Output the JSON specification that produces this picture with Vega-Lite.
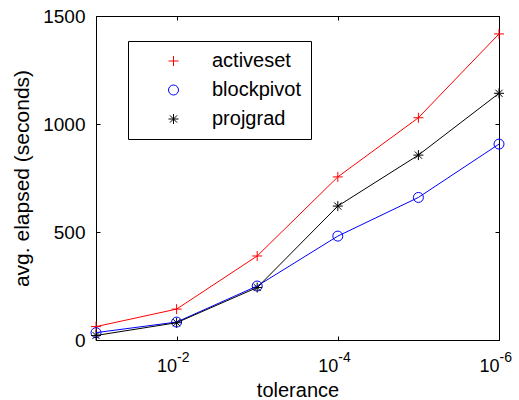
{
  "$schema": "https://vega.github.io/schema/vega-lite/v6.json",
  "width": 403,
  "height": 324,
  "autosize": {"type": "none"},
  "padding": {"left": 96, "top": 16, "right": 20, "bottom": 60},
  "background": "white",
  "config": {
    "font": "Liberation Sans",
    "view": {"stroke": "black", "strokeWidth": 1},
    "axis": {"grid": false, "labelColor": "black", "titleColor": "black", "domainColor": "black", "tickColor": "black", "tickSize": -4, "labelFontWeight": "normal", "titleFontWeight": "normal"}
  },
  "data": {
    "values": [
      {"tol": 0.1, "method": "activeset", "time": 62},
      {"tol": 0.01, "method": "activeset", "time": 143},
      {"tol": 0.001, "method": "activeset", "time": 389},
      {"tol": 0.0001, "method": "activeset", "time": 755},
      {"tol": 0.00001, "method": "activeset", "time": 1029},
      {"tol": 0.000001, "method": "activeset", "time": 1417},
      {"tol": 0.1, "method": "blockpivot", "time": 34},
      {"tol": 0.01, "method": "blockpivot", "time": 83},
      {"tol": 0.001, "method": "blockpivot", "time": 250},
      {"tol": 0.0001, "method": "blockpivot", "time": 481},
      {"tol": 0.00001, "method": "blockpivot", "time": 660},
      {"tol": 0.000001, "method": "blockpivot", "time": 907},
      {"tol": 0.1, "method": "projgrad", "time": 21},
      {"tol": 0.01, "method": "projgrad", "time": 80},
      {"tol": 0.001, "method": "projgrad", "time": 243},
      {"tol": 0.0001, "method": "projgrad", "time": 620},
      {"tol": 0.00001, "method": "projgrad", "time": 856},
      {"tol": 0.000001, "method": "projgrad", "time": 1142}
    ]
  },
  "resolve": {"axis": {"x": "independent", "y": "independent"}},
  "layer": [
    {
      "mark": {"type": "point", "filled": false, "strokeWidth": 1, "size": 100, "opacity": 1},
      "encoding": {
        "x": {"field": "tol", "type": "quantitative",
          "scale": {"type": "log", "domain": [0.000001, 0.1], "reverse": true, "nice": false},
          "axis": {"orient": "top", "values": [0.01, 0.0001, 0.000001], "labels": false, "domain": false, "title": null}},
        "y": {"field": "time", "type": "quantitative",
          "scale": {"domain": [0, 1500], "nice": false},
          "axis": {"orient": "right", "values": [0, 500, 1000, 1500], "labels": false, "domain": false, "title": null}},
        "color": {"field": "method", "type": "nominal",
          "scale": {"domain": ["activeset", "blockpivot", "projgrad"], "range": ["#ff0000", "#0000ff", "#000000"]},
          "legend": {"orient": "none", "legendX": 32, "legendY": 25, "title": null, "strokeColor": "black", "fillColor": "white", "padding": 10, "labelFontSize": 20, "labelColor": "black", "symbolSize": 100, "symbolStrokeWidth": 1, "symbolOffset": 25.5, "labelOffset": 28.5, "rowPadding": 9,
            "encode": {"symbols": {
              "shape": {"condition": [
                  {"test": "datum.value == 'activeset'", "value": "M-6.3,0L6.3,0M0,-1.05L0,1.05"},
                  {"test": "datum.value == 'blockpivot'", "value": "M-6.3,0L-1.15,0M1.15,0L6.3,0M-1.15,0A1.15,1.15,0,1,1,1.15,0A1.15,1.15,0,1,1,-1.15,0"}],
                "value": "M-6.3,0L6.3,0M0,-0.9L0,0.9M-0.65,-0.65L0.65,0.65M-0.65,0.65L0.65,-0.65"}}}}},
        "shape": {"field": "method", "type": "nominal",
          "scale": {"domain": ["activeset", "blockpivot", "projgrad"], "range": ["M-1,0L1,0M0,-1L0,1", "M-1,0A1,1,0,1,1,1,0A1,1,0,1,1,-1,0", "M-1,0L1,0M0,-1L0,1M-0.72,-0.72L0.72,0.72M-0.72,0.72L0.72,-0.72"]},
          "legend": null}
      }
    },
    {
      "mark": {"type": "line", "strokeWidth": 1},
      "encoding": {
        "x": {"field": "tol", "type": "quantitative",
          "axis": {"orient": "bottom", "values": [0.01, 0.0001, 0.000001], "title": "tolerance", "titleFontSize": 20, "titlePadding": 5, "labelFontSize": 18, "labelPadding": 21, "labelAlign": "right", "labelDx": 1,
            "labelExpr": "'10'"}},
        "y": {"field": "time", "type": "quantitative",
          "axis": {"orient": "left", "values": [0, 500, 1000, 1500], "format": "d", "title": "avg. elapsed (seconds)", "titleFontSize": 21, "titlePadding": 10, "labelFontSize": 19, "labelPadding": 15}},
        "color": {"field": "method", "type": "nominal"}
      }
    },
    {
      "mark": {"type": "line", "strokeWidth": 1, "opacity": 0},
      "encoding": {
        "x": {"field": "tol", "type": "quantitative",
          "axis": {"orient": "bottom", "values": [0.01, 0.0001, 0.000001], "title": null, "domain": false, "tickOpacity": 0, "labelFontSize": 14, "labelPadding": 14, "labelAlign": "left", "labelDx": 1,
            "labelExpr": "datum.value < 0.00001 ? '-6' : datum.value < 0.001 ? '-4' : '-2'"}},
        "y": {"field": "time", "type": "quantitative", "axis": null},
        "detail": {"field": "method", "type": "nominal"}
      }
    }
  ]
}
